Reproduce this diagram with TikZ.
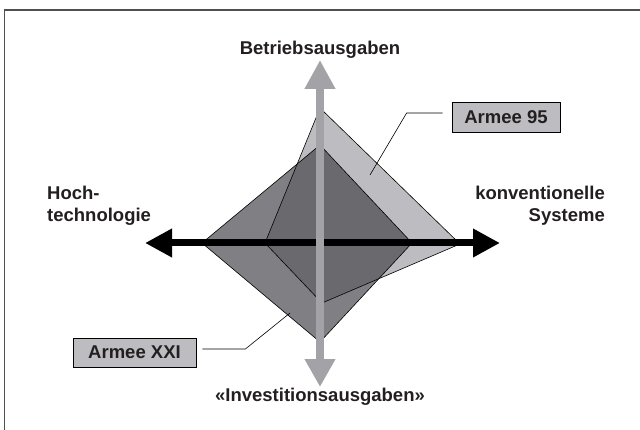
\documentclass[tikz,border=0pt]{standalone}
\usepackage{fontspec}
\setmainfont{Liberation Sans}
\usetikzlibrary{arrows.meta}
\definecolor{lightg}{HTML}{BDBDC1}
\definecolor{midg}{HTML}{808084}
\definecolor{darkg}{HTML}{6A6A6E}
\definecolor{axisg}{HTML}{A3A3A7}
\definecolor{txt}{HTML}{231F20}
\definecolor{framec}{HTML}{505050}
\tikzset{
  lbl/.style={font=\fontsize{18.5}{22}\selectfont\bfseries, text=txt, inner sep=0pt},
  legendbox/.style={draw=black, line width=0.8pt, fill=lightg, minimum width=108pt, minimum height=30pt, inner sep=0pt, font=\fontsize{18.5}{20}\selectfont\bfseries, text=txt},
  leader/.style={draw=black, line width=0.6pt},
  outline/.style={draw=black, line width=0.6pt, line join=miter},
}
\begin{document}
\begin{tikzpicture}[x=1pt,y=-1pt]
\useasboundingbox (0,0) rectangle (640,430);
% frame (top and left edges visible)
\draw[framec, line width=1.5pt] (4.5,440) -- (4.5,9.8) -- (650,9.8);

% diamond coordinates
\coordinate (xl) at (202,243);
\coordinate (xt) at (320,145);
\coordinate (xr) at (412,243);
\coordinate (xb) at (320,342);
\coordinate (nt) at (320,108);
\coordinate (nr) at (460,244);
\coordinate (nb) at (322,303);
\coordinate (nl) at (265,243);

% fills
\fill[midg] (xl) -- (xt) -- (xr) -- (xb) -- cycle;
\fill[lightg] (nt) -- (nr) -- (nb) -- (nl) -- cycle;
\begin{scope}
  \clip (nt) -- (nr) -- (nb) -- (nl) -- cycle;
  \fill[darkg] (xl) -- (xt) -- (xr) -- (xb) -- cycle;
\end{scope}
\draw[outline] (xl) -- (xt) -- (xr) -- (xb) -- cycle;
\draw[outline] (nt) -- (nr) -- (nb) -- (nl) -- cycle;

% axes
\coordinate (hl) at (145,243);
\coordinate (hr) at (500,243);
\coordinate (vt) at (320,60);
\coordinate (vb) at (320,387);
\draw[black, line width=7pt, {Triangle[width=27pt,length=27pt]}-{Triangle[width=27pt,length=27pt]}] (hl) -- (hr);
\draw[axisg, line width=8.5pt, {Triangle[width=29pt,length=28pt]}-{Triangle[width=29pt,length=29pt]}] (vb) -- (vt);

% axis labels
\node[lbl] (betr) at (320,50) {Betriebsausgaben};
\node[lbl] (inv) at (320,397) {«Investitionsausgaben»};
\node[lbl, anchor=west, align=left] (hoch) at (47,206) {Hoch-\\technologie};
\node[lbl, anchor=east, align=right] (konv) at (605,206) {konventionelle\\Systeme};

% legend boxes
\node[legendbox] (a95) at (506,117) {Armee 95};
\node[legendbox, minimum width=123pt, minimum height=29pt] (a21) at (134.5,352.5) {Armee XXI};
\coordinate (p95) at (370,175);
\coordinate (p21) at (290,313);
\draw[leader] (a95.west) ++(-9,-4) coordinate (a95s) -- ++(-36,0) -- (p95);
\draw[leader] (a21.east) ++(6,-3.5) -- ++(43,0) -- (p21);
\end{tikzpicture}
\end{document}
